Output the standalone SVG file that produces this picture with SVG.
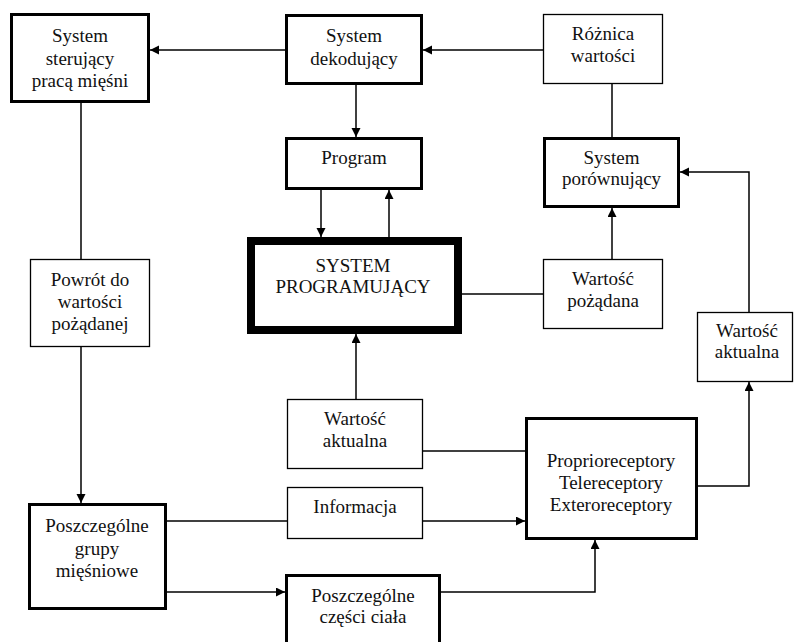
<svg xmlns="http://www.w3.org/2000/svg" width="794" height="642" viewBox="0 0 794 642">
<style>
.thin{fill:#fff;stroke:#000;stroke-width:1.3}
.thick{fill:#fff;stroke:#000;stroke-width:3}
.heavy{fill:#fff;stroke:#000;stroke-width:8}
text{font-family:"Liberation Serif","Times New Roman",serif;font-size:19px;fill:#111;text-anchor:middle}
.c path{fill:none;stroke:#000;stroke-width:1.5}
</style>
<defs>
<marker id="a" markerUnits="userSpaceOnUse" markerWidth="10" markerHeight="10" refX="9" refY="4.5" orient="auto">
<path d="M0,0 L9,4.5 L0,9 z" fill="#000"/>
</marker>
</defs>
<rect width="794" height="642" fill="#fff"/>
<g class="c" id="connectors">
<path d="M285,50 H150" marker-end="url(#a)"/>
<path d="M543,50 H423" marker-end="url(#a)"/>
<path d="M612,84 V137"/>
<path d="M356,85 V137" marker-end="url(#a)"/>
<path d="M321,190 V237" marker-end="url(#a)"/>
<path d="M389,237 V190" marker-end="url(#a)"/>
<path d="M612,259 V208" marker-end="url(#a)"/>
<path d="M462,294 H543"/>
<path d="M749,312 V172 H680" marker-end="url(#a)"/>
<path d="M698,486 H749 V382" marker-end="url(#a)"/>
<path d="M356,399 V334" marker-end="url(#a)"/>
<path d="M525,451 H423"/>
<path d="M423,521 H525" marker-end="url(#a)"/>
<path d="M167,521 H287"/>
<path d="M167,592 H285" marker-end="url(#a)"/>
<path d="M441,592 H595 V540" marker-end="url(#a)"/>
<path d="M81,103 V259"/>
<path d="M81,347 V503" marker-end="url(#a)"/>
</g>
<g id="sterujacy"><rect class="thick" x="11.5" y="14.5" width="137" height="87"/><text x="80" y="42">System</text><text x="80" y="65">sterujący</text><text x="80" y="87">pracą mięśni</text></g>
<g id="dekodujacy"><rect class="thick" x="286.5" y="15.5" width="135" height="68"/><text x="354" y="42">System</text><text x="354" y="65">dekodujący</text></g>
<g id="roznica"><rect class="thin" x="543.5" y="14.5" width="119" height="69"/><text x="603" y="40">Różnica</text><text x="603" y="62">wartości</text></g>
<g id="program"><rect class="thick" x="286.5" y="138.5" width="135" height="50"/><text x="354" y="164">Program</text></g>
<g id="porownujacy"><rect class="thick" x="544.5" y="138.5" width="134" height="68"/><text x="611.5" y="164">System</text><text x="611.5" y="185">porównujący</text></g>
<g id="programujacy"><rect class="heavy" x="251" y="241" width="207" height="89"/><text x="353" y="272">SYSTEM</text><text x="353" y="293">PROGRAMUJĄCY</text></g>
<g id="pozadana"><rect class="thin" x="543.5" y="259.5" width="119" height="69"/><text x="603" y="285">Wartość</text><text x="603" y="307">pożądana</text></g>
<g id="powrot"><rect class="thin" x="30.5" y="259.5" width="119" height="87"/><text x="90" y="286">Powrót do</text><text x="90" y="308">wartości</text><text x="90" y="330">pożądanej</text></g>
<g id="aktualna-prawa"><rect class="thin" x="697.5" y="312.5" width="95" height="69"/><text x="747" y="337">Wartość</text><text x="747" y="358">aktualna</text></g>
<g id="aktualna-srodek"><rect class="thin" x="287.5" y="399.5" width="135" height="69"/><text x="355" y="425">Wartość</text><text x="355" y="447">aktualna</text></g>
<g id="informacja"><rect class="thin" x="287.5" y="487.5" width="135" height="51"/><text x="355" y="513">Informacja</text></g>
<g id="receptory"><rect class="thick" x="526.5" y="418.5" width="170" height="120"/><text x="611" y="467">Proprioreceptory</text><text x="611" y="489">Telereceptory</text><text x="611" y="511">Exteroreceptory</text></g>
<g id="grupy"><rect class="thick" x="29.5" y="504.5" width="136" height="104"/><text x="97" y="532">Poszczególne</text><text x="97" y="555">grupy</text><text x="97" y="577">mięśniowe</text></g>
<g id="czesci"><rect class="thick" x="286.5" y="575.5" width="153" height="70"/><text x="363" y="602">Poszczególne</text><text x="363" y="623">części ciała</text></g>
</svg>
